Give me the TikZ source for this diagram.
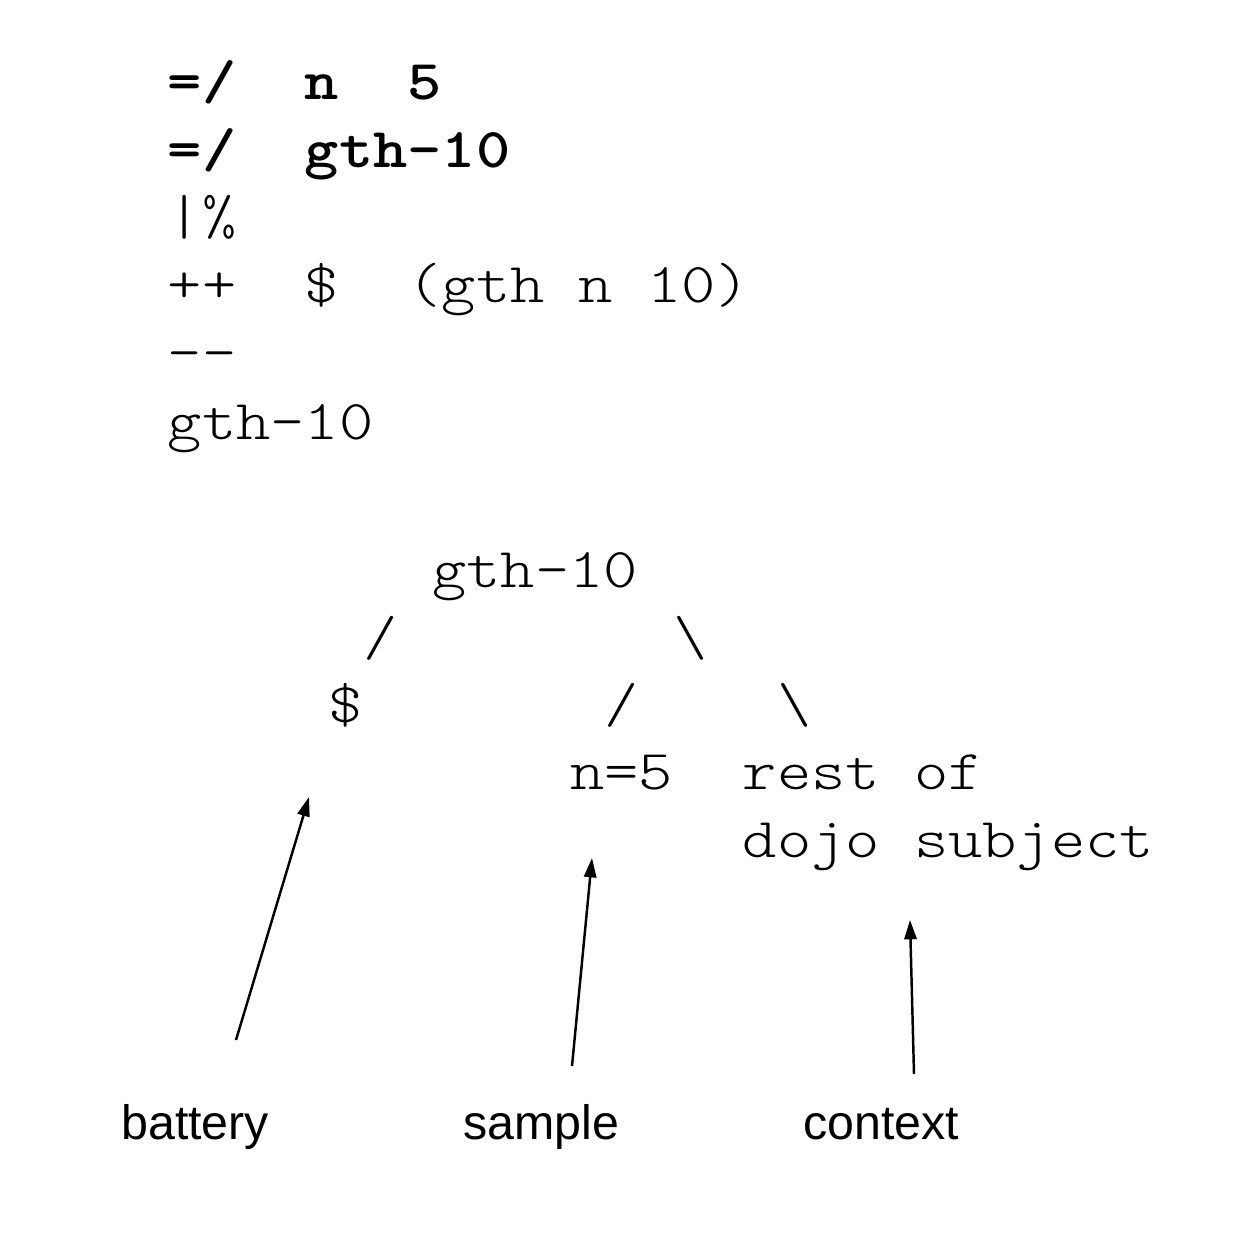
\documentclass[tikz,border=0pt]{standalone}
\usepackage{fontspec}
\newfontfamily\codefont{lmmonolt10-regular.otf}[FakeStretch=1.16, BoldFont=lmmonolt10-bold.otf]
\setsansfont{Liberation Sans}
\usetikzlibrary{arrows.meta}

\begin{document}
\begin{tikzpicture}[
    code/.style={anchor=base west, inner sep=0pt, font=\fontsize{32}{39}\selectfont\codefont},
    boldcode/.style={code, font=\fontsize{32}{39}\selectfont\codefont\bfseries},
    tag/.style={anchor=base west, inner sep=0pt, font=\fontsize{27.5}{32}\selectfont\sffamily},
    pointer/.style={-{Triangle[length=11pt, width=7pt]}, line width=1.4pt}
]
    \useasboundingbox (0, 0) rectangle (24.76, 24.92);

    % Dojo code
    \node[boldcode] (def n)   at (3.35, 22.92) {=/~~n~~5};
    \node[boldcode] (def gth) at (3.35, 21.56) {=/~~gth-10};
    \node[code] (bar cen)     at (3.35, 20.22) {|\%};
    \node[code] (cons)        at (3.35, 18.86) {++~~\$~~(gth n 10)};
    \node[code] (sep)         at (3.35, 17.50) {-{}-};
    \node[code] (result)      at (3.35, 16.12) {gth-10};

    % Subject tree (columns: 6.57 + 0.69*c)
    \node[code] (root)   at (8.64, 13.16) {gth-10};
    \node[code] (lslash) at (7.26, 11.81) {/};
    \node[code] (rslash) at (13.47, 11.81) {\textbackslash};
    \node[code] (battery leaf) at (6.57, 10.46) {\$};
    \node[code] (sub lslash)   at (12.09, 10.46) {/};
    \node[code] (sub rslash)   at (15.54, 10.46) {\textbackslash};
    \node[code] (sample leaf)  at (11.40, 9.12) {n=5};
    \node[code] (context leaf) at (14.85, 9.12) {rest of};
    \node[code] (context more) at (14.85, 7.76) {dojo subject};

    % Labels
    \node[tag] (battery) at (2.42, 2.12) {battery};
    \node[tag] (sample)  at (9.26, 2.12) {sample};
    \node[tag] (context) at (16.06, 2.12) {context};

    % Pointers
    \coordinate (battery tail) at (4.72, 4.12);
    \coordinate (battery tip)  at (6.18, 8.98);
    \coordinate (sample tail)  at (11.44, 3.60);
    \coordinate (sample tip)   at (11.84, 7.76);
    \coordinate (context tail) at (18.28, 3.44);
    \coordinate (context tip)  at (18.20, 6.52);
    \draw[pointer] (battery tail) -- (battery tip);
    \draw[pointer] (sample tail) -- (sample tip);
    \draw[pointer] (context tail) -- (context tip);
\end{tikzpicture}
\end{document}
